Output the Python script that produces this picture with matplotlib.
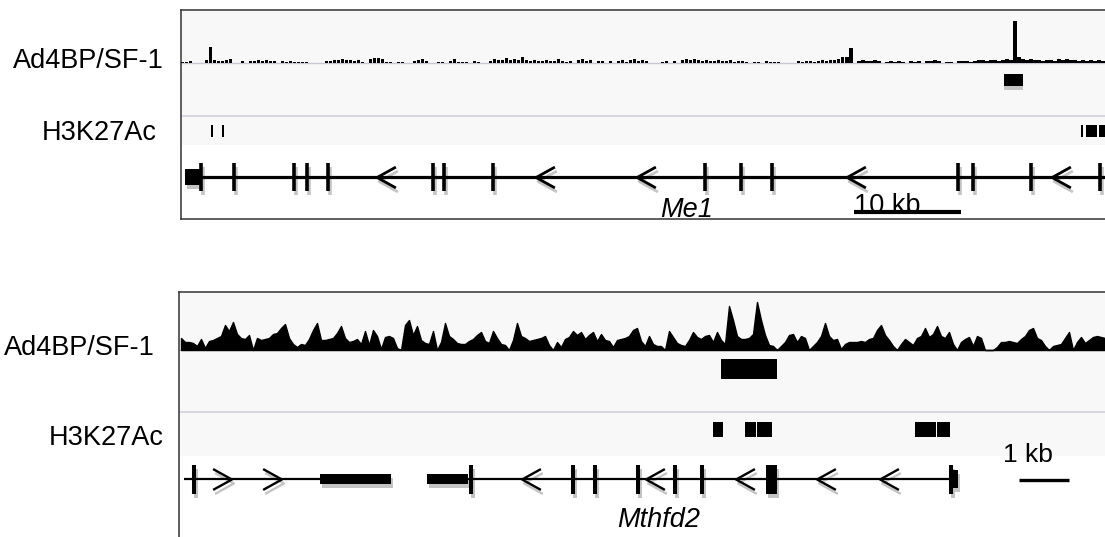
import numpy as np
import matplotlib.pyplot as plt
from matplotlib.path import Path
from matplotlib.patches import Rectangle
from matplotlib.transforms import offset_copy

plt.rcParams['font.family'] = ['Liberation Sans', 'DejaVu Sans']

W, H = 1105, 537
SHADOW = '#c4c4c4'
TRACK_BG = '#f8f8f8'
SEP = '#d2d2dc'

track_labels = ['Ad4BP/SF-1', 'H3K27Ac']

# --- Me1 window, positions in kb from the left edge ---
me1_step = 0.374
me1_signal = [
    1, 1, 2, 0, 0, 0, 3, 16, 3, 2,
    2, 3, 4, 0, 0, 2, 0, 2, 2, 3,
    2, 3, 2, 2, 0, 2, 1, 2, 1, 1,
    1, 1, 0, 0, 0, 0, 2, 2, 3, 3,
    4, 3, 3, 2, 3, 1, 0, 4, 5, 5,
    4, 1, 1, 0, 1, 1, 0, 0, 2, 3,
    4, 2, 0, 0, 1, 1, 0, 2, 4, 1,
    1, 1, 0, 2, 1, 0, 0, 2, 4, 3,
    3, 5, 3, 4, 3, 6, 3, 2, 3, 2,
    2, 3, 2, 2, 4, 2, 1, 2, 0, 3,
    4, 2, 3, 0, 2, 2, 0, 2, 0, 2,
    3, 1, 3, 4, 2, 3, 2, 0, 0, 0,
    1, 2, 0, 2, 0, 3, 4, 3, 4, 3,
    2, 3, 2, 2, 3, 2, 2, 3, 1, 2,
    2, 1, 0, 1, 1, 0, 2, 1, 1, 1,
    0, 0, 0, 0, 2, 1, 2, 2, 1, 2,
    3, 2, 3, 3, 4, 6, 6, 15, 0, 2,
    3, 2, 2, 3, 2, 0, 1, 2, 1, 2,
    1, 0, 2, 1, 2, 0, 2, 2, 3, 2,
    0, 1, 1, 0, 2, 2, 2, 1, 2, 3,
    3, 2, 3, 3, 2, 3, 4, 3, 42, 6,
    4, 3, 4, 3, 3, 2, 3, 3, 2, 4,
    3, 4, 3, 3, 2, 3, 2, 3, 2, 3, 2,
]
me1_peaks = [(76.92, 78.69)]
me1_h3k27ac = [(2.80, 2.99), (3.83, 4.02), (84.10, 84.30), (84.58, 85.61), (85.79, 86.36)]
me1_span = [(0.37, 86.4)]
me1_utr = [(0.37, 1.87)]
me1_exons = [1.87, 4.95, 10.56, 11.78, 13.74, 23.55, 24.58, 29.16, 48.97,
             52.34, 55.23, 72.62, 74.02, 79.44, 85.89]
me1_arrows_rev = [19.16, 34.02, 43.46, 63.08, 82.24]
me1_scale = (62.9, 72.9)

# --- Mthfd2 window ---
mthfd2_step = 0.08
mthfd2_signal = [
    12, 8, 8, 7, 4, 11, 2, 9, 10, 12,
    14, 25, 19, 28, 16, 12, 11, 15, 0, 12,
    10, 11, 12, 16, 17, 22, 26, 12, 6, 3,
    6, 5, 11, 20, 27, 10, 10, 11, 12, 17,
    24, 12, 8, 9, 11, 6, 19, 5, 20, 14,
    1, 13, 14, 12, 2, 0, 25, 30, 15, 24,
    10, 7, 6, 19, 0, 8, 27, 14, 11, 7,
    6, 6, 9, 11, 15, 18, 9, 7, 19, 12,
    6, 5, 0, 10, 27, 14, 12, 9, 10, 11,
    12, 14, 5, 0, 8, 3, 11, 13, 19, 15,
    18, 11, 15, 18, 9, 16, 10, 9, 3, 10,
    11, 12, 14, 20, 22, 9, 4, 14, 6, 4,
    4, 0, 19, 13, 7, 5, 4, 10, 18, 13,
    11, 14, 15, 8, 18, 10, 6, 44, 30, 14,
    11, 11, 12, 16, 48, 30, 15, 5, 4, 0,
    4, 8, 15, 16, 8, 14, 12, 0, 4, 8,
    14, 27, 14, 10, 11, 1, 6, 8, 8, 8,
    9, 8, 11, 12, 20, 25, 15, 10, 4, 0,
    6, 11, 8, 5, 12, 14, 22, 13, 16, 24,
    14, 12, 18, 6, 0, 8, 11, 13, 4, 14,
    12, 0, 0, 0, 3, 8, 8, 9, 8, 7,
    11, 14, 20, 22, 12, 10, 4, 0, 4, 5,
    6, 12, 18, 0, 8, 13, 7, 10, 13, 14,
    13, 12,
]
mthfd2_peaks = [(10.84, 11.96)]
mthfd2_h3k27ac = [(10.68, 10.88), (11.32, 11.54), (11.56, 11.86), (14.72, 15.14), (15.16, 15.42)]
mthfd2_spans = [(0.10, 4.24), (4.96, 15.44)]
mthfd2_thick = [(2.82, 4.24), (4.96, 5.78)]
mthfd2_exons = [0.30, 5.84, 7.88, 8.32, 9.18, 9.92, 10.46, 15.44]
mthfd2_wide = [(11.74, 11.96)]
mthfd2_cap = [(15.44, 15.58)]
mthfd2_arrows_fwd = [0.86, 1.86]
mthfd2_arrows_rev = [7.04, 9.52, 11.32, 12.94, 14.2]
mthfd2_scale = (16.8, 17.8)

LEFT = Path([(0.9, 1), (-0.9, 0), (0.9, -1)], [Path.MOVETO, Path.LINETO, Path.LINETO])
RIGHT = Path([(-0.9, 1), (0.9, 0), (-0.9, -1)], [Path.MOVETO, Path.LINETO, Path.LINETO])

fig = plt.figure(figsize=(W / 100, H / 100), dpi=100)


def panel(left, top, width, height, kb, spines):
    ax = fig.add_axes([left / W, 1 - (top + height) / H, width / W, height / H])
    ax.set_xlim(0, kb)
    ax.set_ylim(height, 0)
    ax.set_xticks([])
    ax.set_yticks([])
    for side, sp in ax.spines.items():
        sp.set_visible(side in spines)
        sp.set_color('#333333')
        sp.set_linewidth(1.1)
    return ax


def boxes(ax, spans, y0, y1, color='black', tr=None, z=3):
    for a, b in spans:
        ax.add_patch(Rectangle((a, y0), b - a, y1 - y0, color=color, lw=0,
                               transform=tr or ax.transData, zorder=z))


def gene(ax, y, spans, line_lw, exons, half, exon_lw, blocks, arrows, ms, mew):
    ax.hlines([y] * len(spans), [s[0] for s in spans], [s[1] for s in spans],
              color='black', lw=line_lw, zorder=3)
    shadow = offset_copy(ax.transData, fig=fig, x=2, y=-4, units='dots')
    for tr, col, z in [(shadow, SHADOW, 2), (ax.transData, 'black', 3)]:
        ax.vlines(exons, y - half, y + half, color=col, lw=exon_lw, transform=tr, zorder=z)
        for spans_b, bh in blocks:
            boxes(ax, spans_b, y - bh, y + bh, color=col, tr=tr, z=z)
        for xs, mk in arrows:
            ax.plot(xs, [y] * len(xs), ls='none', marker=mk, ms=ms, mew=mew,
                    mec=col, mfc='none', transform=tr, zorder=z)


# ---------------- top panel: Me1 ----------------
ax1 = panel(181, 10, 924, 209, 924 / 10.7, ['left', 'top', 'bottom'])
ax1.axhspan(0, 135, color=TRACK_BG, lw=0, zorder=0)
ax1.axhline(53, color='#c8c8d2', lw=1, zorder=1)
ax1.axhline(106, color=SEP, lw=1.2, zorder=1)
h = np.array(me1_signal)
ax1.bar(np.arange(len(h)) * me1_step, h, width=me1_step * 0.8, bottom=53 - h,
        align='edge', color='black', lw=0, zorder=3)
sh1 = offset_copy(ax1.transData, fig=fig, x=0, y=-4, units='dots')
boxes(ax1, me1_peaks, 64, 76, color=SHADOW, tr=sh1, z=2)
boxes(ax1, me1_peaks, 64, 76)
boxes(ax1, me1_h3k27ac, 115, 127)
gene(ax1, 167, me1_span, 2.3, me1_exons, 14, 2.6,
     [(me1_utr, 8)], [(me1_arrows_rev, LEFT)], 15, 2.0)
ax1.text(44.77, 207, 'Me1', style='italic', fontsize=19.5, va='baseline', ha='left')
ax1.text(me1_scale[0], 203, '10 kb', fontsize=19.5, va='baseline', ha='left')
ax1.plot(me1_scale, [201.5, 201.5], color='black', lw=3, solid_capstyle='butt', zorder=4)

# ---------------- bottom panel: Mthfd2 ----------------
ax2 = panel(179, 292, 926, 245, 926 / 50, ['left', 'top'])
ax2.axhspan(0, 164, color=TRACK_BG, lw=0, zorder=0)
ax2.axhline(58, color='#c8c8d2', lw=1, zorder=1)
ax2.axhline(120, color=SEP, lw=1.2, zorder=1)
h2 = np.array(mthfd2_signal)
x2 = mthfd2_step / 2 + np.arange(len(h2)) * mthfd2_step
ax2.fill_between(x2, 58, 58 - h2, color='black', lw=1.0, zorder=3)
boxes(ax2, mthfd2_peaks, 67, 87)
boxes(ax2, mthfd2_h3k27ac, 130, 145)
gene(ax2, 187, mthfd2_spans, 1.6, mthfd2_exons, 14.5, 2.9,
     [(mthfd2_thick, 5), (mthfd2_wide, 14.5), (mthfd2_cap, 9)],
     [(mthfd2_arrows_fwd, RIGHT), (mthfd2_arrows_rev, LEFT)], 15, 1.7)
ax2.text(8.76, 235, 'Mthfd2', style='italic', fontsize=19.5, va='baseline', ha='left')
ax2.text(16.48, 170, '1 kb', fontsize=19, va='baseline', ha='left')
ax2.plot(mthfd2_scale, [188, 188], color='black', lw=2.4, solid_capstyle='butt')

# track labels (pixel positions of the reference)
for (x, y), lab in zip([(13, 68), (42, 140)], track_labels):
    fig.text(x / W, 1 - y / H, lab, fontsize=19.5, va='baseline', ha='left')
for (x, y), lab in zip([(4, 355), (49, 445)], track_labels):
    fig.text(x / W, 1 - y / H, lab, fontsize=19.5, va='baseline', ha='left')

fig.savefig('out.png', dpi=100)
